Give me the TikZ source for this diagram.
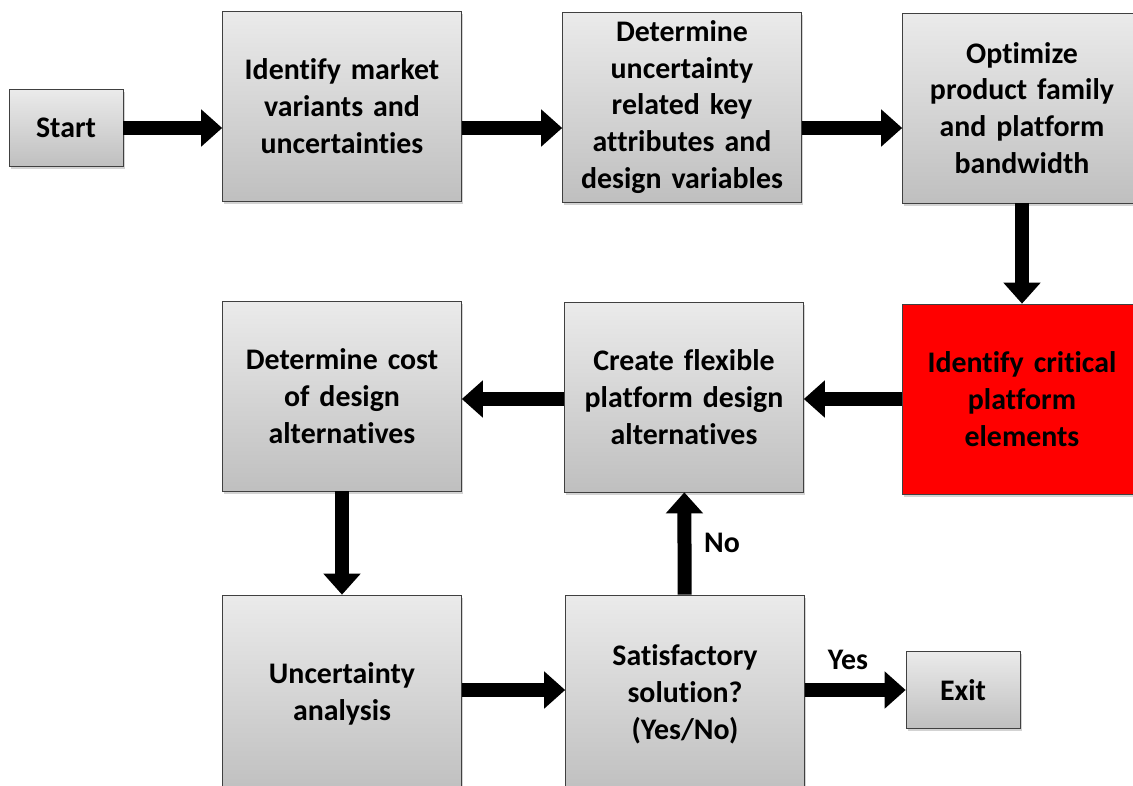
\documentclass[tikz,border=0pt]{standalone}
\usepackage{fontspec}
\setmainfont{Carlito}[Ligatures=NoCommon]
\usetikzlibrary{arrows.meta,shadows}

\begin{document}
\begin{tikzpicture}[x=0.02cm, y=-0.02cm,
	basic/.style   = {draw=black!75, thin, rectangle, align=center, inner sep=0pt,
		drop shadow={shadow xshift=1pt, shadow yshift=-1.5pt, opacity=0.35},
		font=\fontsize{17}{21}\selectfont\bfseries},
	grey/.style    = {basic, top color=gray!16, bottom color=gray!50},
	stepbox/.style = {grey, minimum width=4.78cm, minimum height=3.8cm, text width=4.6cm},
	tall/.style    = {stepbox, minimum height=3.96cm},
	small/.style   = {grey, minimum width=2.28cm, minimum height=1.54cm},
	hot/.style     = {basic, fill=red, minimum width=4.78cm, minimum height=3.8cm, text width=4.6cm},
	lbl/.style     = {font=\fontsize{17}{21}\selectfont\bfseries, inner sep=0pt},
	fat/.style     = {-{Triangle[width=0.72cm,length=0.42cm]}, line width=0.28cm},
	]
	
	\clip (0,0) rectangle (1133,785);
	
	% first row
	\node[small]   (start) at (66,128)   {Start};
	\node[stepbox] (ident) at (342,106)  {Identify market\\variants and\\uncertainties};
	\node[stepbox] (attr)  at (682,107)  {Determine\\uncertainty\\related key\\attributes and\\design variables};
	\node[stepbox] (optim) at (1022,108) {Optimize\\product family\\and platform\\bandwidth};
	
	% second row
	\node[hot]     (crit)  at (1022,399) {Identify critical\\platform\\elements};
	\node[stepbox] (flex)  at (684,397)  {Create flexible\\platform design\\alternatives};
	\node[stepbox] (cost)  at (342,396)  {Determine cost\\of design\\alternatives};
	
	% third row
	\node[tall]    (unc)   at (342,694)  {Uncertainty\\analysis};
	\node[tall]    (sat)   at (685,694)  {Satisfactory\\solution?\\(Yes/No)};
	\node[small]   (exit)  at (963,690)  {Exit};
	
	% labels on the decision
	\node[lbl] (no)  at (722,543) {No};
	\node[lbl] (yes) at (848,660) {Yes};
	
	% arrows along the first row
	\draw[fat] (start) -- (ident.west |- start);
	\foreach \from/\to in {ident/attr, attr/optim}
	\draw[fat] (\from.east |- start) -- (\to.west |- start);
	
	% arrows down and back
	\draw[fat] (optim) -- (crit);
	\draw[fat] (crit) -- (flex.east |- crit);
	\draw[fat] (flex.west |- crit) -- (cost.east |- crit);
	\draw[fat] (cost) -- (unc);
	
	% arrows from the decision
	\draw[fat] (unc.east |- exit) -- (sat.west |- exit);
	\draw[fat] (sat) -- (flex);
	\draw[fat] (sat.east |- exit) -- (exit);
	
\end{tikzpicture}
\end{document}
